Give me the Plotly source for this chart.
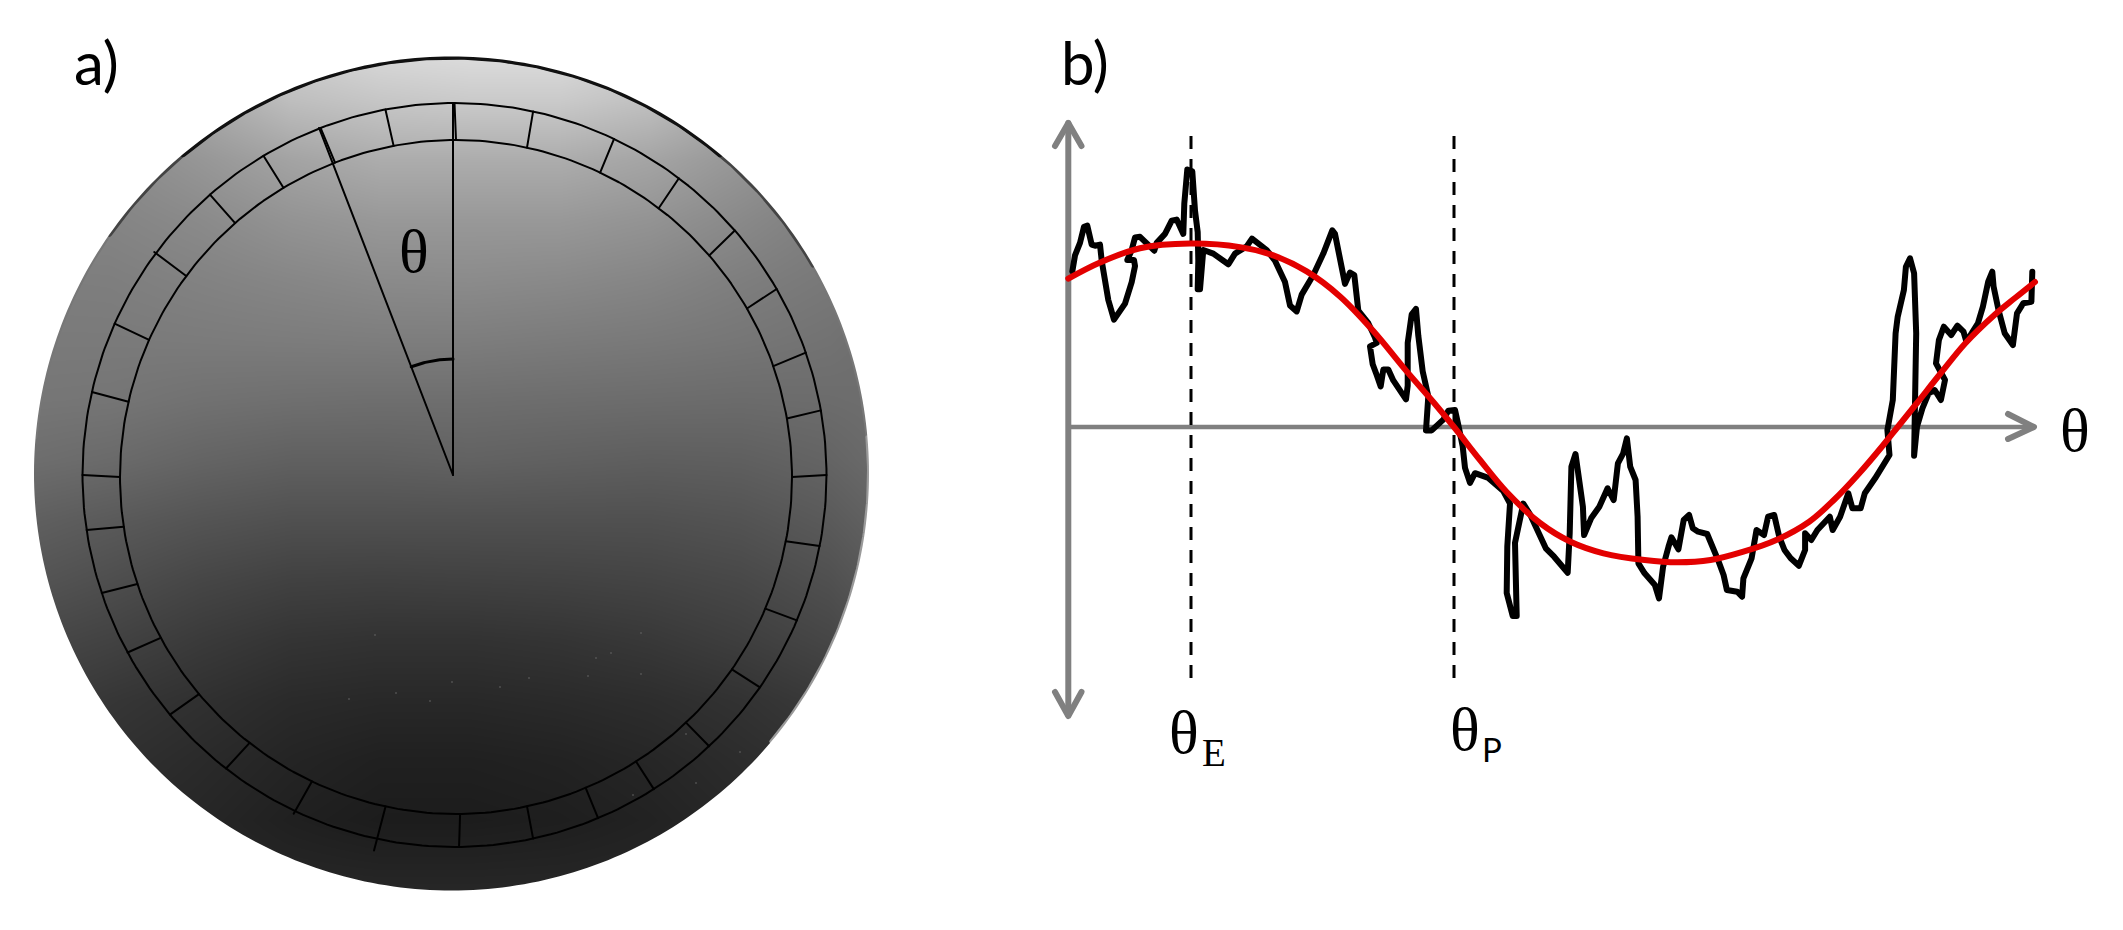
import numpy as np
import plotly.graph_objects as go

W, H = 2123, 930
SPLIT = 1000  # pixel column separating panel a from panel b

# ---------- Panel a data ----------
disc_x = [20, 110, 200, 290, 380, 470, 560, 650, 740, 830, 890]
disc_y = [40, 100, 160, 220, 280, 340, 400, 460, 520, 580, 640, 700, 760, 820, 900]
disc_grey = [
    [150, 150, 185, 210, 222, 226, 226, 212, 180, 150, 140],
    [140, 145, 168, 190, 198, 202, 202, 192, 168, 142, 130],
    [135, 138, 150, 163, 172, 172, 172, 164, 150, 136, 125],
    [132, 132, 138, 147, 152, 152, 152, 147, 137, 126, 118],
    [125, 126, 130, 134, 138, 139, 137, 133, 126, 120, 112],
    [122, 122, 123, 124, 125, 125, 123, 121, 118, 114, 108],
    [118, 117, 113, 111, 110, 110, 109, 108, 107, 108, 110],
    [110, 106, 100, 96, 96, 98, 96, 94, 95, 100, 108],
    [96, 90, 84, 80, 80, 80, 80, 80, 83, 90, 100],
    [85, 78, 70, 65, 64, 65, 66, 68, 72, 80, 92],
    [72, 66, 58, 52, 50, 50, 52, 56, 62, 70, 82],
    [62, 54, 48, 42, 40, 40, 42, 45, 50, 58, 70],
    [52, 48, 42, 36, 32, 32, 34, 38, 44, 50, 60],
    [46, 42, 38, 32, 28, 28, 30, 34, 40, 46, 54],
    [45, 42, 40, 40, 40, 40, 40, 40, 42, 46, 52],
]
tick_angles = [0, 12.2, 25.4, 37.1, 48.9, 60, 70.8, 80, 90, 101, 113, 124.8, 136.8,
               147.6, 157.3, 167.8, 179.3, 192.1, 205.4, 217.9, 229.9, 241.5, 251.5,
               261.5, 270, 282.9, 294, 306.6, 318.9, 329.1, 338.9, 349.3]
tick_overshoot = [0, 0, 0, 0, 0, 0, 0, 0, 0, 0, 0, 0, 0,
                  0, 0, 0, 0, 12, 3, 0, 0, 0, 0,
                  0, 0, 0, 0, 2, 0, 0, 0, 0]
theta_angle = 338.9
speck_x = [375, 641, 611, 596, 588, 641, 529, 500, 452, 396, 349, 430, 686, 740, 696, 633]
speck_y = [635, 633, 653, 658, 676, 674, 678, 687, 682, 693, 699, 701, 734, 752, 783, 795]

# ---------- Panel b data ----------
profile_x = [2.3, 5, 10, 14, 17.3, 21.7, 25, 30, 31.7, 38.3, 44, 50, 55, 61.7, 65, 64, 57.3, 61.7, 65, 70,
             76.7, 84.3, 86.7, 95, 101.7, 106.7, 113.3, 114.3, 117.3, 122.3, 125, 127.7, 128.3, 127.7, 130,
             133.3, 143.3, 158.3, 165, 170, 176.7, 182, 196.7, 205, 215, 220, 226.7, 231.7, 243.3, 253.3,
             262.3, 265, 270, 275, 280, 284.3, 288.3, 298.3, 305, 306.7, 300, 302.7, 306.7, 310.7, 313.3,
             318.3, 323.3, 330, 336, 337.7, 337.7, 341.7, 346, 348.3, 352.7, 358.3, 356, 361.7, 373.3,
             378.3, 385, 388.3, 392.7, 395, 400, 405, 418.3, 433.3, 440, 437.3, 436.7, 442.7, 446.7, 445,
             450, 453.3, 460, 466.7, 469.7, 475.8, 484.1, 497.7, 499.7, 501.4, 505.5, 508.8, 512.9, 514.1,
             521.1, 529.3, 537.6, 543.7, 547.9, 553.2, 556.9, 560.2, 565.6, 567.6, 568.4, 574.6, 584.9,
             589, 593.1, 598.5, 601.4, 608.4, 613.7, 619.1, 622.8, 628.1, 637.2, 648.7, 653.6, 656.9,
             667.2, 672.1, 673.4, 681.6, 686.5, 694, 698.1, 704.2, 709.2, 714.5, 720.7, 728.9, 735.1,
             735.1, 741.3, 747.4, 759.8, 762.7, 770.1, 778.3, 782.4, 790.7, 794.8, 805.1, 815.3, 819.5,
             817.4, 822.8, 825.6, 827.7, 833.9, 835.9, 840, 844.1, 846.2, 845.4, 844.1, 847, 852.4, 858.6,
             864.7, 870.9, 875, 866, 868.9, 873.8, 881.2, 887.4, 893.5, 896.4, 907.9, 912.9, 918.2, 922.3,
             923.6, 928.5, 934.7, 942.9, 947, 953.2, 961.4, 962.3]
profile_y = [155.6, 171.6, 184.1, 200.2, 201.3, 182.4, 181.3, 182.4, 166.3, 127, 107.4, 116.3, 123.4, 144.9,
             160.9, 167, 167, 177, 189.5, 190.2, 184.1, 176.3, 184.1, 193.1, 206.3, 207.4, 193.1, 223.4,
             257.4, 255.6, 216.3, 194.9, 166.3, 137.7, 137.7, 177, 173.4, 162.7, 173.4, 177, 180.6, 188.4,
             177, 166.3, 144.9, 121.6, 115.6, 132.4, 152, 173.4, 196.6, 193.1, 169.9, 143.1, 154.5, 152,
             116.3, 103.8, 89.5, 84.1, 80.6, 62.7, 52, 40.6, 57.4, 57.4, 46.6, 37.7, 27.7, 41.3, 84.1,
             112.7, 118.1, 91.3, 55.6, 30.6, -3.4, -3.4, 7.4, 16.3, 17, 2, -19.4, -40.9, -55.9, -46.2,
             -50.9, -64.1, -76.6, -119.4, -165.9, -189.1, -189.1, -115.9, -90.9, -76.6, -87.3, -101.6,
             -111.3, -121.3, -129.7, -145.7, -106.3, -39.7, -27, -56.3, -79.7, -108, -91.3, -79.7, -61.3,
             -73, -36.3, -26.3, -11.3, -39.7, -53, -89.7, -136.3, -146.3, -158, -171.3, -139.7, -119.7,
             -110.3, -122.3, -93, -88, -101.3, -104.7, -107, -134.7, -148, -163, -164.7, -169.7, -151.3,
             -131.3, -103, -108, -89.7, -88, -109.7, -123, -131.3, -138.7, -123, -106.3, -113, -103, -89.7,
             -103, -89.7, -66.3, -81.3, -81.3, -66.3, -51.3, -36.3, -28, -3, 27, 93.7, 110.3, 137, 160.3,
             168.7, 153.7, 93.7, 27, -28.7, 0.3, 18.7, 33.7, 37, 27, 47, 63.7, 87, 100.3, 92, 101.3, 95.3,
             85.3, 103.7, 120.3, 145.3, 155.3, 140.3, 117, 93.7, 82, 113.7, 123.7, 125.3, 155.3]
fit_x = [-1.7, 30, 70, 120, 170, 203.3, 236.7, 270, 303.3, 336.7, 363.3, 384, 410, 436.7, 470,
         500.5, 533.5, 574.6, 607.5, 640.5, 673.4, 706.3, 739.2, 763.9, 788.6, 813.3, 827.7, 846.2, 870.9,
         895.6, 924.4, 945, 965]
fit_y = [148.4, 164.5, 178.8, 183.4, 179.9, 171.6, 155.6, 130.6, 96, 55.6, 25, 0, -33, -65, -96,
         -114.7, -126.3, -133, -135.3, -133, -124.7, -113, -94.7, -73, -47, -18, 0, 23, 54,
         84, 112, 129, 145]
theta_E = 121
theta_P = 384

fig = go.Figure()

# ---------- Panel a ----------
fig.add_trace(go.Heatmap(x=disc_x, y=disc_y, z=disc_grey, zmin=0, zmax=255, zsmooth="best",
                         colorscale=[[0, "rgb(0,0,0)"], [1, "rgb(255,255,255)"]], showscale=False,
                         hoverinfo="skip", xaxis="x", yaxis="y"))

DISC = (451.5, 473.5, 417.5, 417)
OUT = (454.5, 475, 372, 372)
INN = (456, 477, 336, 337)
CTR = (453, 475)

def ring(p, a0=0, a1=360, n=361):
    a = np.radians(np.linspace(a0, a1, n))
    return p[0] + p[2] * np.sin(a), p[1] - p[3] * np.cos(a)

def line(x, y, color="black", width=2, ax="", **kw):
    fig.add_trace(go.Scatter(x=x, y=y, mode="lines", line=dict(color=color, width=width, **kw),
                             hoverinfo="skip", showlegend=False, cliponaxis=False,
                             xaxis="x" + ax, yaxis="y" + ax))

# rim of the disc
for a0, a1, c, w in [(-85, 85, "#777777", 4), (-55, 60, "#444444", 5), (-40, 40, "#111111", 6)]:
    rx, ry = ring(DISC, a0, a1, 200)
    line(rx, ry, c, w)
rx, ry = ring(DISC, 85, 130, 80)
line(rx, ry, "#9a9a9a", 4)

for p in (OUT, INN):
    rx, ry = ring(p)
    line(rx, ry, "black", 2)

tx, ty = [], []
for ang, extra in zip(tick_angles, tick_overshoot):
    s, c = np.sin(np.radians(ang)), np.cos(np.radians(ang))
    tx += [INN[0] + INN[2] * s, OUT[0] + (OUT[2] + extra) * s, None]
    ty += [INN[1] - INN[3] * c, OUT[1] - (OUT[3] + extra) * c, None]
line(tx, ty, "black", 2)

# angle construction
s, c = np.sin(np.radians(theta_angle)), np.cos(np.radians(theta_angle))
line([CTR[0], CTR[0]], [OUT[1] - OUT[3], CTR[1]], "black", 2)
line([CTR[0], CTR[0] + 372 * s], [CTR[1], CTR[1] - 372 * c], "black", 2)
ax_, ay_ = ring((CTR[0], CTR[1], 116, 116), theta_angle, 360, 30)
line(ax_, ay_, "black", 3)

fig.add_trace(go.Scatter(x=speck_x, y=speck_y, mode="markers", hoverinfo="skip", showlegend=False,
                         marker=dict(color="#6a6a6a", size=1.6), xaxis="x", yaxis="y"))

# mask round the disc
ox, oy = ring(DISC, 0, 360, 361)
hole = "M" + " L".join(f"{a:.2f},{b:.2f}" for a, b in zip(ox, oy)) + " Z"
fig.add_shape(type="path", xref="x", yref="y", layer="above", fillrule="evenodd",
              path=f"M0,0 L{SPLIT},0 L{SPLIT},{H} L0,{H} Z " + hole,
              fillcolor="white", line=dict(width=0))

# ---------- Panel b ----------
GREY = "#808080"
line([-1.7, -1.7], [304, -288], GREY, 6, ax="2")
line([-15, -1.7, 11.5], [281, 304, 281], GREY, 6, ax="2")
line([-15, -1.7, 11.5], [-265, -289, -265], GREY, 6, ax="2")
line([-1.7, 963], [0, 0], GREY, 4.5, ax="2")
line([938, 964, 938], [13, 0, -12], GREY, 6, ax="2")
for v in (theta_E, theta_P):
    line([v, v], [291, -258], "black", 3, ax="2", dash="13px,10px")
line(profile_x, profile_y, "black", 6, ax="2")
line(fit_x, fit_y, "#e30000", 6, ax="2", shape="spline", smoothing=1.0)

def text(x, y, s, size, family, ax=""):
    fig.add_annotation(x=x, y=y, xref="x" + ax, yref="y" + ax, text=s, showarrow=False,
                       xanchor="center", yanchor="middle",
                       font=dict(size=size, family=family, color="black"))

SERIF = "Liberation Serif"
SANS = "Lato"
text(96, 62, "a)", 60, SANS)
text(414, 251, "θ", 62, SERIF)
text(15, 365, "b)", 60, SANS, "2")
text(1005, -3, "θ", 62, SERIF, "2")
text(114, -305, "θ", 62, SERIF, "2")
text(144, -325, "E", 39, SERIF, "2")
text(395, -302, "θ", 62, SERIF, "2")
text(422, -322, "P", 33, SANS, "2")

fig.update_layout(
    width=W, height=H, margin=dict(l=0, r=0, t=0, b=0), paper_bgcolor="white", plot_bgcolor="white",
    showlegend=False,
    xaxis=dict(domain=[0, SPLIT / W], range=[0, SPLIT], visible=False),
    yaxis=dict(domain=[0, 1], range=[H, 0], visible=False),
    xaxis2=dict(domain=[SPLIT / W, 1], range=[SPLIT - 1070, W - 1070], visible=False, anchor="y2"),
    yaxis2=dict(domain=[0, 1], range=[427 - H, 427], visible=False, anchor="x2"),
)
CSS = (".js-line{stroke-linejoin:round;stroke-linecap:round}"
       '.js-line[style*="13px"]{stroke-linecap:butt}')
fig.write_html("out.html", config=dict(displayModeBar=False),
               post_script="document.body.style.margin='0';document.body.style.overflow='hidden';"
                           "var s=document.createElement('style');s.textContent='" + CSS.replace("'", "\\'") + "';"
                           "document.head.appendChild(s);")
